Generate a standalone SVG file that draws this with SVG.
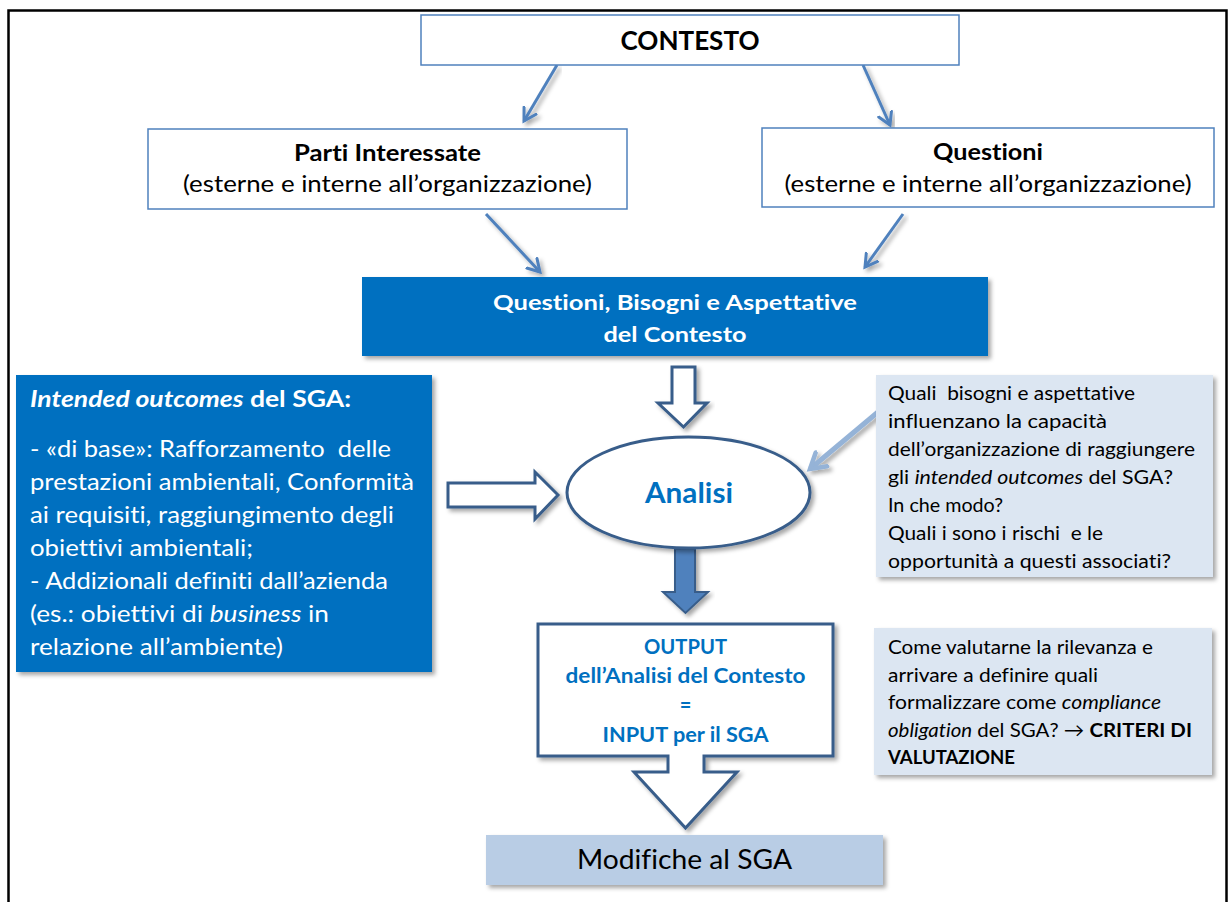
<svg xmlns="http://www.w3.org/2000/svg" width="1231" height="902" viewBox="0 0 1231 902">
  <style>
    text { font-family: Lato, "Liberation Sans", sans-serif; font-variant-ligatures: none; }
    .b { font-weight: 700; }
    .i { font-style: italic; }
    .wbox { fill: #ffffff; stroke: #4F81BD; stroke-width: 1.5; }
    .dark { fill: #0070C0; }
    .light { fill: #DCE6F2; }
    .mod { fill: #B9CDE5; }
    .thin { fill: none; stroke: #4F81BD; stroke-width: 3; }
    .pale { fill: none; stroke: #95B3D7; stroke-width: 5; }
    .hollow { fill: #ffffff; stroke: #385D8A; stroke-width: 3; stroke-linejoin: miter; }
    .blk { fill: #000000; }
    .wht { fill: #ffffff; }
    .blu { fill: #0070C0; }
  </style>
  <defs>
    <filter id="shadow" x="-10%" y="-10%" width="125%" height="130%">
      <feDropShadow dx="3" dy="3" stdDeviation="2" flood-color="#000" flood-opacity="0.35"/>
    </filter>
    <marker id="head" markerUnits="userSpaceOnUse" markerWidth="20" markerHeight="20" refX="13" refY="8" orient="auto-start-reverse" viewBox="0 0 20 16">
      <path d="M1,1 L13,8 L1,15" fill="none" stroke="#4F81BD" stroke-width="3" stroke-linecap="round"/>
    </marker>
    <marker id="paleHead" markerUnits="userSpaceOnUse" markerWidth="26" markerHeight="26" refX="17" refY="11" orient="auto" viewBox="0 0 26 22">
      <path d="M2,2 L17,11 L2,20" fill="none" stroke="#95B3D7" stroke-width="4.5" stroke-linecap="round"/>
    </marker>
  </defs>

  <rect width="1231" height="902" fill="#ffffff"/>
  <!-- page frame -->
  <rect x="8.5" y="10.5" width="1218" height="900" fill="none" stroke="#000" stroke-width="2.5"/>

  <!-- connectors -->
  <g id="connectors">
    <line class="thin" x1="557" y1="65" x2="524" y2="121" marker-end="url(#head)" filter="url(#shadow)"/>
    <line class="thin" x1="863" y1="65" x2="890" y2="125" marker-end="url(#head)" filter="url(#shadow)"/>
    <line class="thin" x1="638" y1="178" x2="749" y2="178" marker-start="url(#head)" marker-end="url(#head)" filter="url(#shadow)"/>
    <line class="thin" x1="486" y1="214" x2="540" y2="272" marker-end="url(#head)" filter="url(#shadow)"/>
    <line class="thin" x1="903" y1="214" x2="865" y2="267" marker-end="url(#head)" filter="url(#shadow)"/>
    <line class="pale" x1="878" y1="412" x2="810" y2="469" marker-end="url(#paleHead)" filter="url(#shadow)"/>
    <line class="pale" x1="874" y1="688" x2="837" y2="688" marker-end="url(#paleHead)" filter="url(#shadow)"/>
    <!-- block arrows -->
    <path class="hollow" d="M672,367 H695 V403 H707 L683.5,427 L658,403 H672 Z" filter="url(#shadow)"/>
    <path class="hollow" d="M448,483 H535 V472 L558,495 L535,519 V507 H448 Z" filter="url(#shadow)"/>
    <path d="M675,549 H695 V592 H708 L685.5,613 L663,592 H675 Z" fill="#4F81BD" stroke="#385D8A" stroke-width="2" filter="url(#shadow)"/>
  </g>

  <g id="contesto">
    <rect class="wbox" x="421" y="15" width="538" height="50"/>
    <text class="b blk" x="690" y="50" font-size="27" text-anchor="middle" textLength="139" lengthAdjust="spacingAndGlyphs">CONTESTO</text>
  </g>

  <g id="parti">
    <rect class="wbox" x="148" y="129" width="479" height="80"/>
    <text class="b blk" x="387.5" y="161" font-size="23" text-anchor="middle" textLength="187" lengthAdjust="spacingAndGlyphs">Parti Interessate</text>
    <text class="blk" x="387.5" y="192" font-size="23" text-anchor="middle" textLength="409" lengthAdjust="spacingAndGlyphs">(esterne e interne all’organizzazione)</text>
  </g>

  <g id="questioni">
    <rect class="wbox" x="762" y="128" width="452" height="79"/>
    <text class="b blk" x="988" y="160" font-size="23" text-anchor="middle" textLength="110" lengthAdjust="spacingAndGlyphs">Questioni</text>
    <text class="blk" x="988" y="192" font-size="23" text-anchor="middle" textLength="407" lengthAdjust="spacingAndGlyphs">(esterne e interne all’organizzazione)</text>
  </g>

  <g id="bisogni">
    <rect class="dark" x="362" y="277" width="626" height="79" filter="url(#shadow)"/>
    <text class="b wht" x="675" y="310" font-size="21" text-anchor="middle" textLength="364" lengthAdjust="spacingAndGlyphs">Questioni, Bisogni e Aspettative</text>
    <text class="b wht" x="675" y="342" font-size="21" text-anchor="middle" textLength="143" lengthAdjust="spacingAndGlyphs">del Contesto</text>
  </g>

  <g id="outcomes">
    <rect class="dark" x="16" y="375" width="416" height="297" filter="url(#shadow)"/>
    <text class="b wht" x="30" y="407" font-size="23" textLength="321" lengthAdjust="spacingAndGlyphs"><tspan class="i">Intended outcomes</tspan> del SGA:</text>
    <g class="wht" font-size="22.5">
      <text x="30" y="457" textLength="361" lengthAdjust="spacingAndGlyphs">- «di base»: Rafforzamento&#160; delle</text>
      <text x="30" y="490" textLength="384" lengthAdjust="spacingAndGlyphs">prestazioni ambientali, Conformità</text>
      <text x="30" y="523" textLength="364" lengthAdjust="spacingAndGlyphs">ai requisiti, raggiungimento degli</text>
      <text x="30" y="556" textLength="223" lengthAdjust="spacingAndGlyphs">obiettivi ambientali;</text>
      <text x="30" y="589" textLength="358" lengthAdjust="spacingAndGlyphs">- Addizionali definiti dall’azienda</text>
      <text x="30" y="622" textLength="299" lengthAdjust="spacingAndGlyphs">(es.: obiettivi di <tspan class="i">business</tspan> in</text>
      <text x="30" y="655" textLength="253" lengthAdjust="spacingAndGlyphs">relazione all’ambiente)</text>
    </g>
  </g>

  <g id="analisi">
    <ellipse cx="688.5" cy="492.5" rx="121.5" ry="55.5" fill="#ffffff" stroke="#385D8A" stroke-width="3" filter="url(#shadow)"/>
    <text class="b blu" x="689" y="503" font-size="29" text-anchor="middle" textLength="88" lengthAdjust="spacingAndGlyphs">Analisi</text>
  </g>

  <g id="domande">
    <rect class="light" x="876" y="375" width="337" height="202" filter="url(#shadow)"/>
    <g class="blk" font-size="19.5">
      <text x="888" y="400" textLength="247" lengthAdjust="spacingAndGlyphs">Quali&#160; bisogni e aspettative</text>
      <text x="888" y="428" textLength="219" lengthAdjust="spacingAndGlyphs">influenzano la capacità</text>
      <text x="888" y="456" textLength="307" lengthAdjust="spacingAndGlyphs">dell’organizzazione di raggiungere</text>
      <text x="888" y="484" textLength="285" lengthAdjust="spacingAndGlyphs">gli <tspan class="i">intended outcomes</tspan> del SGA?</text>
      <text x="888" y="512" textLength="115" lengthAdjust="spacingAndGlyphs">In che modo?</text>
      <text x="888" y="540" textLength="215" lengthAdjust="spacingAndGlyphs">Quali i sono i rischi&#160; e le</text>
      <text x="888" y="568" textLength="283" lengthAdjust="spacingAndGlyphs">opportunità a questi associati?</text>
    </g>
  </g>

  <g id="output">
    <path class="hollow" d="M538,624 H833 V756 H704 V772 H737 L685.5,828 L634,772 H668 V756 H538 Z" filter="url(#shadow)"/>
    <g class="b blu" font-size="20" text-anchor="middle">
      <text x="685.5" y="654" textLength="83" lengthAdjust="spacingAndGlyphs">OUTPUT</text>
      <text x="685.5" y="683" textLength="240" lengthAdjust="spacingAndGlyphs">dell’Analisi del Contesto</text>
      <text x="685.5" y="712">=</text>
      <text x="685.5" y="742" textLength="166" lengthAdjust="spacingAndGlyphs">INPUT per il SGA</text>
    </g>
  </g>

  <g id="criteri">
    <rect class="light" x="874" y="628" width="338" height="147" filter="url(#shadow)"/>
    <g class="blk" font-size="19.5">
      <text x="888" y="654" textLength="265" lengthAdjust="spacingAndGlyphs">Come valutarne la rilevanza e</text>
      <text x="888" y="682" textLength="210" lengthAdjust="spacingAndGlyphs">arrivare a definire quali</text>
      <text x="888" y="709" textLength="273" lengthAdjust="spacingAndGlyphs">formalizzare come <tspan class="i">compliance</tspan></text>
      <text x="888" y="737" textLength="304" lengthAdjust="spacingAndGlyphs"><tspan class="i">obligation</tspan> del SGA? → <tspan class="b">CRITERI DI</tspan></text>
      <text class="b" x="888" y="764" textLength="127" lengthAdjust="spacingAndGlyphs">VALUTAZIONE</text>
    </g>
  </g>

  <g id="modifiche">
    <rect class="mod" x="486" y="835" width="397" height="50" filter="url(#shadow)"/>
    <text class="blk" x="684.5" y="869" font-size="27" text-anchor="middle" textLength="215" lengthAdjust="spacingAndGlyphs">Modifiche al SGA</text>
  </g>
</svg>
